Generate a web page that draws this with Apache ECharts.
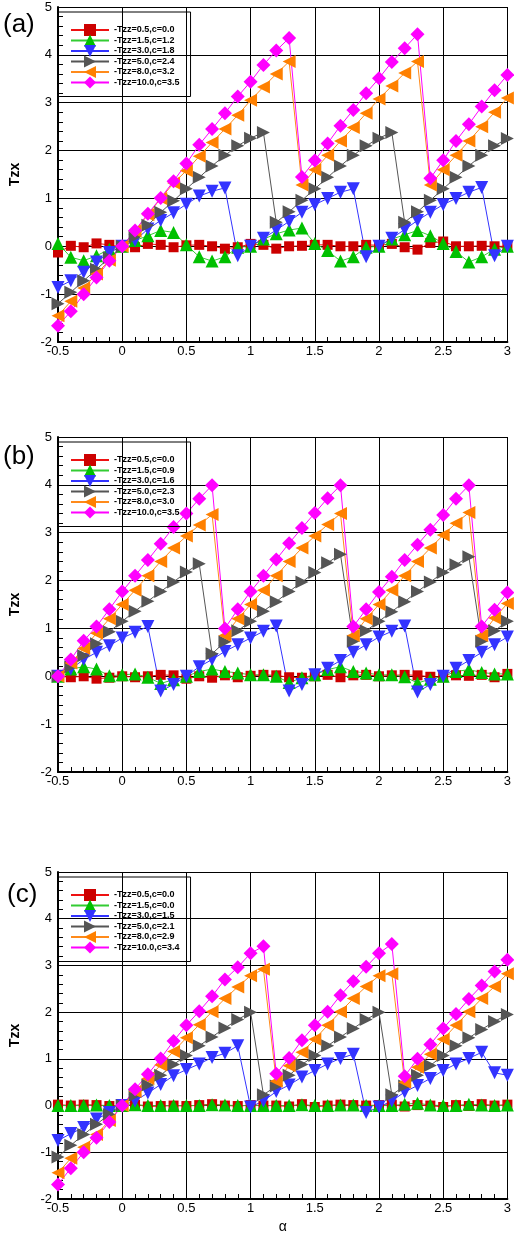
<!DOCTYPE html>
<html>
<head>
<meta charset="utf-8">
<script src="https://cdn.jsdelivr.net/npm/echarts@6/dist/echarts.min.js"></script>
<style>
	body { margin: 0; background: #fff; }
	.panel { position: absolute; left: 0; width: 514px; height: 413px; }
</style>
</head>
<body>
<div id="pa" class="panel" style="top:0px"></div>
<div id="pb" class="panel" style="top:413px"></div>
<div id="pc" class="panel" style="top:826px"></div>
<script>
const alpha = [-0.5, -0.4, -0.3, -0.2, -0.1, 0, 0.1, 0.2, 0.3, 0.4, 0.5, 0.6, 0.7, 0.8, 0.9, 1.0, 1.1, 1.2,
	1.3, 1.4, 1.5, 1.6, 1.7, 1.8, 1.9, 2.0, 2.1, 2.2, 2.3, 2.4, 2.5, 2.6, 2.7, 2.8, 2.9, 3.0]

// panel (a)
const namesA = ['-Tzz=0.5,c=0.0', '-Tzz=1.5,c=1.2', '-Tzz=3.0,c=1.8', '-Tzz=5.0,c=2.4', '-Tzz=8.0,c=3.2', '-Tzz=10.0,c=3.5']
const redA = [-0.13, 0.01, -0.02, 0.06, 0.03, -0.02, -0.02, 0.05, 0.03, -0.02, 0.02, 0.03, 0, -0.05, -0.02, 0.05, 0.03, -0.05,
	0, 0.01, 0.03, 0.03, 0, 0, 0.03, 0.02, 0.05, -0.02, -0.07, 0.07, 0.1, 0, 0, 0.01, 0, 0]
const greenA = [0.06, -0.23, -0.3, -0.2, -0.06, 0, 0.12, 0.22, 0.33, 0.29, 0.03, -0.22, -0.31, -0.22, -0.02, 0, 0.15, 0.26,
	0.34, 0.38, 0.06, -0.09, -0.31, -0.22, -0.02, 0, 0.15, 0.24, 0.33, 0.22, 0.06, -0.11, -0.33, -0.22, -0.06, 0]
const blueA = [-0.86, -0.72, -0.54, -0.33, -0.13, 0, 0.12, 0.36, 0.54, 0.7, 0.88, 1.05, 1.15, 1.22, -0.2, 0, 0.17, 0.34,
	0.52, 0.71, 0.87, 1.0, 1.13, 1.2, -0.22, 0, 0.17, 0.35, 0.54, 0.71, 0.87, 1.0, 1.13, 1.23, -0.2, 0]
const grayA = [-1.2, -0.96, -0.72, -0.48, -0.24, 0, 0.2, 0.44, 0.71, 0.95, 1.2, 1.44, 1.68, 1.9, 2.1, 2.26, 2.38, 0.5,
	0.72, 0.96, 1.2, 1.44, 1.68, 1.9, 2.1, 2.26, 2.38, 0.5, 0.72, 0.96, 1.2, 1.44, 1.68, 1.9, 2.1, 2.25]
const orangeA = [-1.45, -1.15, -0.87, -0.58, -0.29, 0, 0.32, 0.66, 1.0, 1.32, 1.58, 1.88, 2.17, 2.45, 2.74, 3.05, 3.33, 3.6,
	3.86, 1.28, 1.6, 1.9, 2.2, 2.48, 2.78, 3.08, 3.35, 3.62, 3.86, 1.28, 1.6, 1.9, 2.2, 2.5, 2.8, 3.1]
const magentaA = [-1.66, -1.36, -1.0, -0.65, -0.3, 0, 0.33, 0.68, 1.01, 1.36, 1.73, 2.12, 2.45, 2.78, 3.13, 3.44, 3.79, 4.09,
	4.35, 1.45, 1.79, 2.15, 2.52, 2.85, 3.2, 3.51, 3.85, 4.14, 4.43, 1.42, 1.8, 2.2, 2.55, 2.92, 3.26, 3.58]

// panel (b)
const namesB = ['-Tzz=0.5,c=0.0', '-Tzz=1.5,c=0.9', '-Tzz=3.0,c=1.6', '-Tzz=5.0,c=2.3', '-Tzz=8.0,c=3.0', '-Tzz=10.0,c=3.5']
const redB = [0, -0.02, 0, -0.05, -0.03, 0, -0.02, 0, 0.03, 0.02, -0.05, 0, -0.03, 0.02, -0.02, 0.01, 0.03, 0.02,
	-0.02, -0.03, 0, 0.03, -0.02, 0.02, 0.03, 0, 0.02, 0.03, 0.02, -0.01, -0.02, 0.02, 0.01, 0.03, -0.02, 0.05]
const greenB = [0, 0.15, 0.2, 0.15, 0.01, 0.03, 0.05, -0.02, -0.15, -0.07, 0, 0.1, 0.15, 0.1, 0.07, 0.03, 0.03, 0,
	-0.13, -0.03, 0.03, 0.14, 0.2, 0.1, 0.07, 0.03, 0.03, -0.01, -0.14, -0.06, 0, 0.1, 0.14, 0.08, 0.05, 0.05]
const blueB = [0, 0.15, 0.35, 0.5, 0.64, 0.8, 0.92, 1.04, -0.31, -0.17, 0, 0.2, 0.35, 0.52, 0.66, 0.8, 0.94, 1.05,
	-0.31, -0.17, 0.03, 0.17, 0.33, 0.5, 0.66, 0.82, 0.94, 1.05, -0.33, -0.17, 0, 0.17, 0.33, 0.5, 0.66, 0.82]
const grayB = [0, 0.2, 0.43, 0.68, 0.93, 1.15, 1.36, 1.57, 1.77, 1.97, 2.18, 2.35, 0.47, 0.72, 0.95, 1.15, 1.36, 1.56,
	1.77, 1.97, 2.17, 2.37, 2.55, 0.73, 0.95, 1.15, 1.35, 1.56, 1.77, 1.97, 2.17, 2.33, 2.5, 0.73, 0.95, 1.15]
const orangeB = [0, 0.28, 0.58, 0.9, 1.2, 1.5, 1.8, 2.1, 2.4, 2.68, 2.93, 3.16, 3.38, 0.85, 1.2, 1.5, 1.8, 2.1,
	2.4, 2.68, 2.93, 3.17, 3.4, 0.85, 1.2, 1.5, 1.8, 2.1, 2.4, 2.68, 2.95, 3.2, 3.42, 0.85, 1.22, 1.52]
const magentaB = [0, 0.35, 0.74, 1.04, 1.4, 1.77, 2.1, 2.43, 2.77, 3.12, 3.4, 3.71, 3.99, 1.0, 1.4, 1.77, 2.1, 2.44,
	2.78, 3.1, 3.41, 3.72, 3.99, 1.04, 1.4, 1.76, 2.08, 2.43, 2.75, 3.06, 3.37, 3.71, 3.99, 1.04, 1.39, 1.75]

// panel (c)
const namesC = ['-Tzz=0.5,c=0.0', '-Tzz=1.5,c=0.0', '-Tzz=3.0,c=1.5', '-Tzz=5.0,c=2.1', '-Tzz=8.0,c=2.9', '-Tzz=10.0,c=3.4']
const redC = [0.02, 0, 0.02, 0.01, -0.01, 0, 0.02, -0.02, -0.01, 0, -0.01, 0.01, 0.03, 0, -0.01, 0.01, 0, 0,
	-0.02, 0.03, -0.03, 0, 0.02, 0.01, 0, 0.01, 0.02, -0.02, 0.01, 0, -0.03, 0.01, -0.01, 0.03, 0, 0.02]
const greenC = [0, 0, 0, 0.01, 0, 0, 0.02, 0, 0, 0, 0, 0, 0.02, 0.01, 0, 0, 0, 0,
	0, 0.02, 0, 0, 0.01, 0.01, 0, 0, 0, 0.03, 0.05, 0.01, 0, 0, 0.03, 0.01, 0, 0.01]
const blueC = [-0.75, -0.6, -0.47, -0.29, -0.15, 0, 0.1, 0.27, 0.45, 0.64, 0.77, 0.89, 1.03, 1.12, 1.28, -0.03, 0.1, 0.3,
	0.44, 0.61, 0.75, 0.89, 1.01, 1.1, -0.15, -0.03, 0.1, 0.29, 0.43, 0.58, 0.75, 0.89, 1.01, 1.14, 0.7, 0.65]
const grayC = [-1.1, -0.85, -0.62, -0.4, -0.19, 0, 0.22, 0.44, 0.65, 0.88, 1.07, 1.28, 1.47, 1.66, 1.84, 2.0, 0.23, 0.42,
	0.65, 0.88, 1.07, 1.28, 1.47, 1.65, 1.84, 2.0, 0.23, 0.42, 0.65, 0.86, 1.07, 1.28, 1.45, 1.63, 1.8, 1.95]
const orangeC = [-1.44, -1.13, -0.89, -0.62, -0.32, 0, 0.3, 0.58, 0.87, 1.16, 1.45, 1.73, 2.01, 2.29, 2.54, 2.78, 2.92, 0.52,
	0.85, 1.14, 1.42, 1.72, 2.01, 2.29, 2.55, 2.78, 2.82, 0.5, 0.82, 1.1, 1.42, 1.72, 2.01, 2.29, 2.55, 2.82]
const magentaC = [-1.69, -1.34, -1.0, -0.69, -0.35, 0, 0.35, 0.67, 1.01, 1.38, 1.72, 2.02, 2.34, 2.7, 2.96, 3.26, 3.41, 0.68,
	1.02, 1.4, 1.72, 2.01, 2.36, 2.66, 2.97, 3.26, 3.46, 0.63, 1.0, 1.31, 1.65, 1.96, 2.28, 2.57, 2.87, 3.12]

const font = '"Liberation Sans", Arial, sans-serif'

// marker look of each curve, same order as the names
const styles = [
	{ line: '#ee1111', fill: '#cc0000', symbol: 'rect', size: 10 },
	{ line: '#33cc33', fill: '#00c000', symbol: 'triangle', size: 13 },
	{ line: '#3333ff', fill: '#3333ff', symbol: 'path://M0,0 L10,0 L5,10 Z', size: 13 },
	{ line: '#555555', fill: '#555555', symbol: 'path://M0,0 L10,5 L0,10 Z', size: 13 },
	{ line: '#ff8a1a', fill: '#ff8000', symbol: 'path://M10,0 L0,5 L10,10 Z', size: 13 },
	{ line: '#ff00ff', fill: '#ff00ff', symbol: 'diamond', size: 14 }
]

function makePanel(domId, opts) {
	const chart = echarts.init(document.getElementById(domId))

	const series = opts.values.map((vals, i) => ({
		name: opts.names[i],
		type: 'line',
		data: alpha.map((x, k) => [x, vals[k]]),
		symbol: styles[i].symbol,
		symbolSize: styles[i].size,
		showAllSymbol: true,
		lineStyle: { color: styles[i].line, width: 1 },
		itemStyle: { color: styles[i].fill },
		emphasis: { disabled: true }
	}))

	const option = {
		animation: false,
		title: {
			text: opts.label,
			left: opts.labelLeft,
			top: opts.labelTop,
			padding: 0,
			textStyle: { fontFamily: font, fontSize: 26, fontWeight: 'normal', color: '#000' }
		},
		legend: {
			orient: 'vertical',
			left: 58,
			top: opts.gridTop + 5,
			padding: [12, 11, 8, 12],
			itemWidth: 38,
			itemHeight: 15,
			itemGap: -1.5,
			borderColor: '#000',
			borderWidth: 1,
			symbolRotate: 'inherit',
			textStyle: { fontFamily: font, fontSize: 9, fontWeight: 'bold', color: '#000' },
			data: opts.names
		},
		grid: {
			left: 56,
			top: opts.gridTop,
			width: 456,
			height: 335
		},
		xAxis: {
			type: 'value',
			min: -0.5,
			max: 3,
			interval: 0.5,
			name: opts.xName || '',
			nameLocation: 'middle',
			nameGap: 21,
			nameTextStyle: { fontFamily: font, fontSize: 14, color: '#000' },
			axisLine: { onZero: false, lineStyle: { color: '#000', width: 2 } },
			axisTick: { inside: true, length: 6, lineStyle: { color: '#000' } },
			minorTick: { show: true, splitNumber: 5, length: 5, lineStyle: { color: '#000' } },
			splitLine: { show: true, lineStyle: { color: '#000', width: 1 } },
			axisLabel: { fontFamily: font, fontSize: 13, color: '#000', margin: 3 }
		},
		yAxis: {
			type: 'value',
			min: -2,
			max: 5,
			interval: 1,
			name: 'Tzx',
			nameLocation: 'middle',
			nameRotate: 90,
			nameGap: 36,
			nameTextStyle: { fontFamily: font, fontSize: 14, fontWeight: 'bold', color: '#000' },
			axisLine: { onZero: false, lineStyle: { color: '#000', width: 2 } },
			axisTick: { inside: true, length: 6, lineStyle: { color: '#000' } },
			minorTick: { show: true, splitNumber: 5, length: 5, lineStyle: { color: '#000' } },
			splitLine: { show: true, lineStyle: { color: '#000', width: 1 } },
			axisLabel: { fontFamily: font, fontSize: 13, color: '#000', margin: 6 }
		},
		series: series
	}

	chart.setOption(option)
	return chart
}

makePanel('pa', {
	label: '(a)', labelLeft: 3, labelTop: 12, gridTop: 7, names: namesA,
	values: [redA, greenA, blueA, grayA, orangeA, magentaA]
})
makePanel('pb', {
	label: '(b)', labelLeft: 3, labelTop: 31, gridTop: 24, names: namesB,
	values: [redB, greenB, blueB, grayB, orangeB, magentaB]
})
makePanel('pc', {
	label: '(c)', labelLeft: 7, labelTop: 56, gridTop: 46, names: namesC, xName: 'α',
	values: [redC, greenC, blueC, grayC, orangeC, magentaC]
})
</script>
</body>
</html>
